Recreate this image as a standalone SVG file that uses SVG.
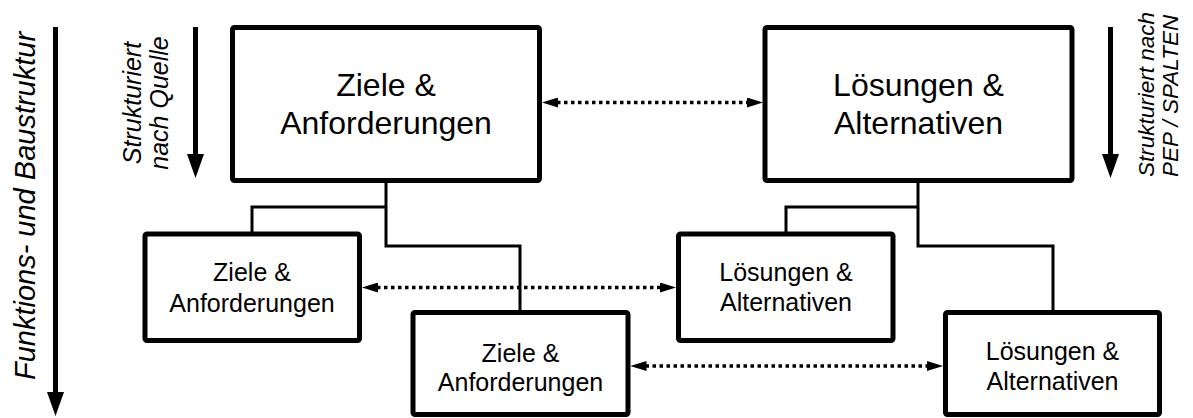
<svg xmlns="http://www.w3.org/2000/svg" width="1193" height="418" viewBox="0 0 1193 418">
  <style>
    .box rect { fill: #fff; stroke: #000; stroke-width: 5; stroke-linejoin: round; }
    .box text { font-family: "Liberation Sans", Arial, sans-serif; fill: #000; text-anchor: middle; }
    .big text { font-size: 32px; }
    .small text { font-size: 25px; }
    .tree { fill: none; stroke: #000; stroke-width: 3; stroke-linejoin: miter; }
    .link { fill: none; stroke: #000; stroke-width: 3.5; stroke-dasharray: 3.5 3.5; }
    .axis { fill: none; stroke: #000; stroke-width: 5; }
    .note { font-family: "Liberation Sans", Arial, sans-serif; font-style: italic; fill: #000; }
  </style>
  <defs>
    <marker id="dotHead" viewBox="0 0 16 10" refX="1" refY="5" markerWidth="16" markerHeight="10" markerUnits="userSpaceOnUse" orient="auto-start-reverse">
      <path d="M0,0 L16,5 L0,10 z" fill="#000"/>
    </marker>
    <marker id="axisHead" viewBox="0 0 24 17" refX="1" refY="8.5" markerWidth="24" markerHeight="17" markerUnits="userSpaceOnUse" orient="auto">
      <path d="M0,0 L24,8.5 L0,17 z" fill="#000"/>
    </marker>
  </defs>

  <!-- direction axes and their captions -->
  <g id="axis-structure">
    <line class="axis" x1="55.5" y1="27" x2="55.5" y2="393" marker-end="url(#axisHead)"/>
    <text class="note" font-size="29" text-anchor="middle" transform="translate(35,206) rotate(-90)">Funktions- und Baustruktur</text>
  </g>
  <g id="axis-source">
    <line class="axis" x1="195.5" y1="27" x2="195.5" y2="155" marker-end="url(#axisHead)"/>
    <text class="note" font-size="25" text-anchor="middle" transform="translate(140.5,103) rotate(-90)">Strukturiert</text>
    <text class="note" font-size="25" text-anchor="middle" transform="translate(168,103) rotate(-90)">nach Quelle</text>
  </g>
  <g id="axis-pep">
    <line class="axis" x1="1110.5" y1="27" x2="1110.5" y2="155" marker-end="url(#axisHead)"/>
    <text class="note" font-size="22.5" text-anchor="start" transform="translate(1154,177) rotate(-90)">Strukturiert nach</text>
    <text class="note" font-size="22.5" text-anchor="start" transform="translate(1178,177) rotate(-90)">PEP / SPALTEN</text>
  </g>

  <!-- hierarchy lines and dotted relations -->
  <g id="connectors">
    <path class="tree" d="M386,182 V246 H520 V311 M386,207 H252 V232"/>
    <path class="tree" d="M918,182 V246 H1053 V311 M918,207 H786 V232"/>
    <line class="link" x1="557" y1="102.5" x2="748" y2="102.5" marker-start="url(#dotHead)" marker-end="url(#dotHead)"/>
    <line class="link" x1="377" y1="287.5" x2="661" y2="287.5" marker-start="url(#dotHead)" marker-end="url(#dotHead)"/>
    <line class="link" x1="645.5" y1="366" x2="928" y2="366" marker-start="url(#dotHead)" marker-end="url(#dotHead)"/>
  </g>

  <g id="goals-top" class="box big">
    <rect x="232.5" y="27.5" width="307" height="153" rx="2"/>
    <text x="386" y="95.5">Ziele &amp;</text>
    <text x="386" y="133.5">Anforderungen</text>
  </g>
  <g id="solutions-top" class="box big">
    <rect x="765" y="27.5" width="307" height="153" rx="2"/>
    <text x="918.5" y="95.5">Lösungen &amp;</text>
    <text x="918.5" y="133.5">Alternativen</text>
  </g>
  <g id="goals-a" class="box small">
    <rect x="145" y="234" width="214.5" height="106.5" rx="2"/>
    <text x="252" y="281">Ziele &amp;</text>
    <text x="252" y="311.5">Anforderungen</text>
  </g>
  <g id="goals-b" class="box small">
    <rect x="413" y="312.5" width="215" height="102" rx="2"/>
    <text x="520.5" y="361.5">Ziele &amp;</text>
    <text x="520.5" y="390.5">Anforderungen</text>
  </g>
  <g id="solutions-a" class="box small">
    <rect x="678.5" y="234" width="214.5" height="106.5" rx="2"/>
    <text x="786" y="280.5">Lösungen &amp;</text>
    <text x="786" y="310.5">Alternativen</text>
  </g>
  <g id="solutions-b" class="box small">
    <rect x="945.5" y="312.5" width="214" height="102" rx="2"/>
    <text x="1052.5" y="360">Lösungen &amp;</text>
    <text x="1052.5" y="389.5">Alternativen</text>
  </g>
</svg>
